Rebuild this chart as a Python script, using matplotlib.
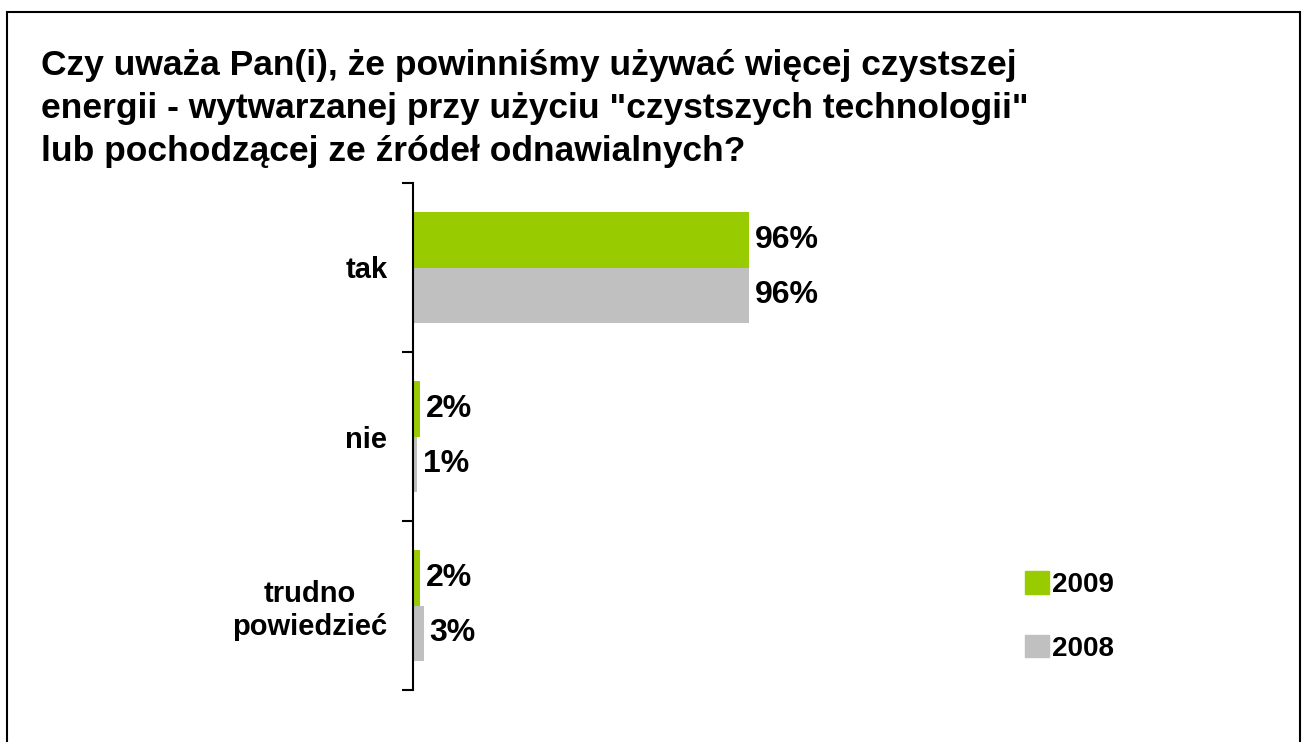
import numpy as np
import matplotlib.pyplot as plt
from matplotlib.patches import Rectangle, Patch

categories = ['tak', 'nie', 'trudno\npowiedzieć']
v2009 = [96, 2, 2]
v2008 = [96, 1, 3]
series = ['2009', '2008']
colors = ['#99CC00', '#C0C0C0']
title = ('Czy uważa Pan(i), że powinniśmy używać więcej czystszej\n'
         'energii - wytwarzanej przy użyciu "czystszych technologii"\n'
         'lub pochodzącej ze źródeł odnawialnych?')

W, H = 1306, 742
fig = plt.figure(figsize=(W / 100, H / 100), dpi=100)
fig.patches.append(Rectangle((7 / W, -0.05), (1300 - 7) / W, (H - 12) / H + 0.05,
                             transform=fig.transFigure, fill=False,
                             edgecolor='black', linewidth=1.5))

fig.text(41 / W, 1 - 49 / H, title, ha='left', va='top', fontsize=25.5,
         fontweight='bold', family='Liberation Sans', linespacing=1.38)

ax = fig.add_axes([413 / W, 52 / H, (1000 - 413) / W, 507 / H])
ax.set_xlim(0, (1000 - 413) / 3.5)
ax.set_ylim(0, 3)

y = np.arange(len(categories))[::-1] + 0.5
h = 0.33
ax.barh(y + h / 2, v2009, height=h, color=colors[0], label=series[0])
ax.barh(y - h / 2, v2008, height=h, color=colors[1], label=series[1])

for yy, a, b in zip(y, v2009, v2008):
    ax.annotate(f'{a}%', (a, yy + h / 2), xytext=(6, 0), textcoords='offset pixels',
                va='center', ha='left', fontsize=23, fontweight='bold',
                family='Liberation Sans')
    ax.annotate(f'{b}%', (b, yy - h / 2), xytext=(6, 0), textcoords='offset pixels',
                va='center', ha='left', fontsize=23, fontweight='bold',
                family='Liberation Sans')

for spine in ['top', 'right', 'bottom']:
    ax.spines[spine].set_visible(False)
ax.spines['left'].set_linewidth(1.5)
ax.set_xticks([])
ax.set_yticks([0, 1, 2, 3])
ax.set_yticklabels([])
ax.tick_params(axis='y', which='major', length=8, width=1.5)
ax.set_yticks(y, minor=True)
ax.set_yticklabels(categories, minor=True, fontsize=21, fontweight='bold',
                   family='Liberation Sans', multialignment='center',
                   linespacing=1.2)
ax.tick_params(axis='y', which='minor', length=0, pad=18.5)

handles = [Patch(color=c) for c in colors]
leg = fig.legend(handles, series, loc='upper left',
                 bbox_to_anchor=(1006 / W, 1 - 552 / H), frameon=False,
                 prop={'family': 'Liberation Sans', 'weight': 'bold', 'size': 20},
                 handlelength=0.85, handleheight=0.85, handletextpad=0.1,
                 labelspacing=1.32, borderpad=0.2)

fig.savefig('out.png', dpi=100)
